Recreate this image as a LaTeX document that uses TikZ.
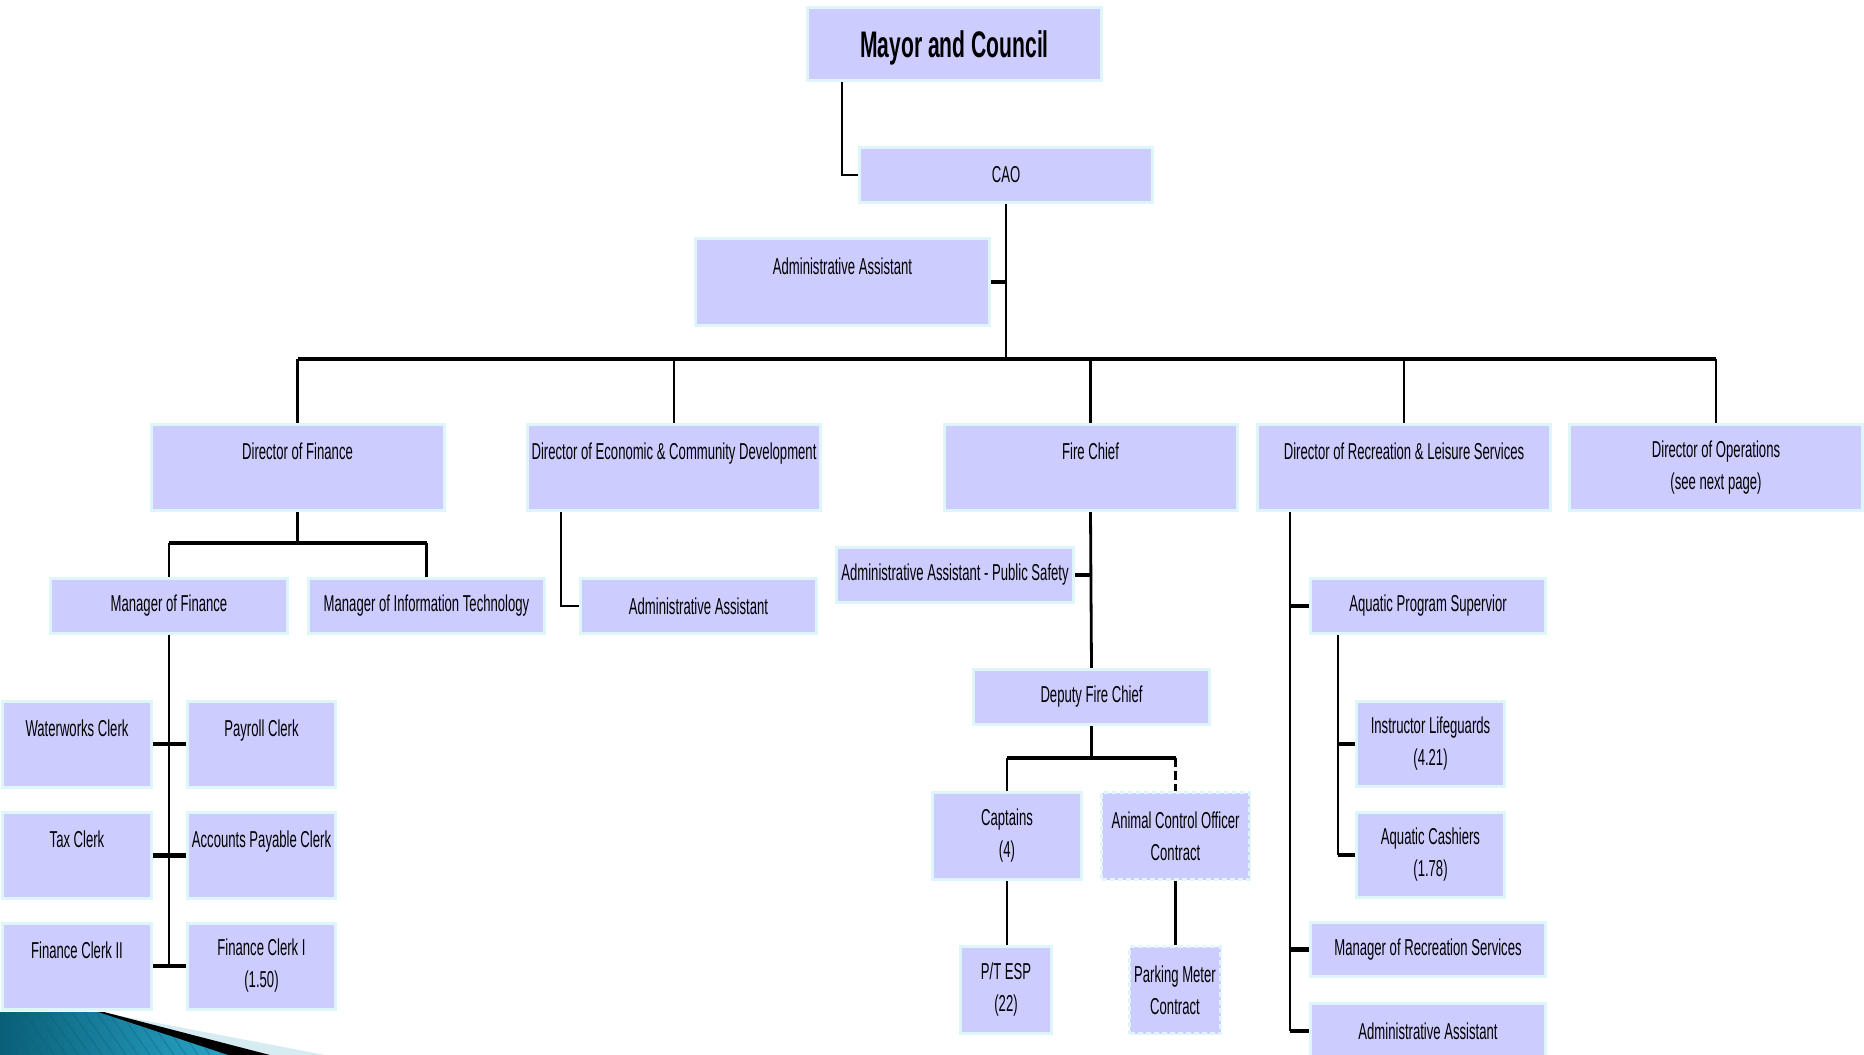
\documentclass[tikz,border=0pt]{standalone}
\usepackage{fontspec}
\setmainfont[FakeStretch=0.57]{Liberation Sans}
\usetikzlibrary{calc,backgrounds}
\definecolor{boxfill}{RGB}{204,204,255}
\definecolor{boxedge}{RGB}{222,245,250}
\definecolor{tealA}{RGB}{10,95,120}
\definecolor{tealB}{RGB}{40,165,200}
\definecolor{swoosh}{RGB}{214,236,242}
\tikzset{
  orgbox/.style={fill=boxfill, draw=boxedge, line width=3pt, inner sep=0pt, align=center,
    font=\fontsize{23}{32}\selectfont, text=black},
  dashbox/.style={orgbox, dash pattern=on 5pt off 3pt},
  link/.style={draw=black, line width=2.8pt},
  hlink/.style={draw=black, line width=4.2pt},
}
\begin{document}
\begin{tikzpicture}[x=1pt,y=-1pt]
\useasboundingbox (0,0) rectangle (1864,1055);
\clip (0,0) rectangle (1864,1055);

% bottom-left decoration
\fill[swoosh] (100,1012) -- (325,1055) -- (0,1055) -- cycle;
\fill[black] (0,1012) -- (104,1012) -- (270,1055) -- (0,1055) -- cycle;
\fill[left color=tealA, right color=tealB] (0,1012) -- (98,1012) -- (228,1055) -- (0,1055) -- cycle;
\begin{scope}
  \clip (0,1012) -- (98,1012) -- (228,1055) -- (0,1055) -- cycle;
  \foreach \i in {-60,-48,...,240} \draw[tealA, opacity=0.35, line width=1.2pt] (\i,1012) -- (\i+30,1055);
\end{scope}

% top
\node[orgbox, minimum width=294pt, minimum height=73pt, text depth=0pt, font=\bfseries\fontsize{37}{40}\selectfont] (mayor) at (954.5,44) {Mayor and Council};
\node[orgbox, minimum width=293pt, minimum height=55pt] (cao) at (1006,175) {CAO};
\node[orgbox, minimum width=294pt, minimum height=87pt] (aa1) at (842.5,282) {Administrative Assistant\\\mbox{}};

% directors
\node[orgbox, minimum width=293pt, minimum height=86pt] (dof) at (297.5,467.5) {Director of Finance\\\mbox{}};
\node[orgbox, minimum width=293pt, minimum height=86pt] (ecd) at (674,467.5) {Director of Economic \& Community Development\\\mbox{}};
\node[orgbox, minimum width=293pt, minimum height=86pt] (fire) at (1090.5,467.5) {Fire Chief\\\mbox{}};
\node[orgbox, minimum width=293pt, minimum height=86pt] (rec) at (1404,467.5) {Director of Recreation \& Leisure Services\\\mbox{}};
\node[orgbox, minimum width=293pt, minimum height=86pt] (ops) at (1716,467.5) {Director of Operations\\(see next page)};

% finance
\node[orgbox, minimum width=237pt, minimum height=55pt] (mof) at (169,606) {Manager of Finance};
\node[orgbox, minimum width=236pt, minimum height=55pt] (mit) at (426.5,606) {Manager of Information Technology};
\node[orgbox, minimum width=149pt, minimum height=86pt] (ww) at (77,744) {Waterworks Clerk\\\mbox{}};
\node[orgbox, minimum width=148pt, minimum height=86pt] (pc) at (261.5,744) {Payroll Clerk\\\mbox{}};
\node[orgbox, minimum width=149pt, minimum height=86pt] (tax) at (77,855.5) {Tax Clerk\\\mbox{}};
\node[orgbox, minimum width=148pt, minimum height=86pt] (apc) at (261.5,855.5) {Accounts Payable Clerk\\\mbox{}};
\node[orgbox, minimum width=149pt, minimum height=86pt] (fc2) at (77,966) {Finance Clerk II\\\mbox{}};
\node[orgbox, minimum width=148pt, minimum height=86pt] (fc1) at (261.5,966) {Finance Clerk I\\(1.50)};

% economic dev
\node[orgbox, minimum width=236pt, minimum height=55pt] (aa2) at (698.5,606) {Administrative Assistant};

% fire
\node[orgbox, minimum width=237pt, minimum height=55pt] (aaps) at (955,575) {Administrative Assistant - Public Safety};
\node[orgbox, minimum width=236pt, minimum height=55pt] (dfc) at (1091.5,697) {Deputy Fire Chief};
\node[orgbox, minimum width=149pt, minimum height=87pt] (cap) at (1007,836) {Captains\\(4)};
\node[dashbox, minimum width=148pt, minimum height=87pt] (aco) at (1175.5,836) {Animal Control Officer\\Contract};
\node[orgbox, minimum width=91pt, minimum height=87pt] (ptesp) at (1006,990) {P/T ESP\\(22)};
\node[dashbox, minimum width=91pt, minimum height=87pt] (pmc) at (1175,990) {Parking Meter\\Contract};

% recreation
\node[orgbox, minimum width=235pt, minimum height=55pt] (aps) at (1428,606) {Aquatic Program Supervior};
\node[orgbox, minimum width=148pt, minimum height=85pt] (il) at (1430.5,744) {Instructor Lifeguards\\(4.21)};
\node[orgbox, minimum width=148pt, minimum height=85pt] (ac) at (1430.5,855) {Aquatic Cashiers\\(1.78)};
\node[orgbox, minimum width=235pt, minimum height=54pt] (mrs) at (1428,949.5) {Manager of Recreation Services};
\node[orgbox, minimum width=235pt, minimum height=55pt] (aa3) at (1428,1031) {Administrative Assistant};

\begin{scope}[on background layer]
  \coordinate (bus) at (0,359);
  \draw[link] ($(mayor.south west)+(36,0)$) |- (cao.west);
  \draw[link] (cao.south) -- (cao.south |- bus);
  \draw[hlink] (aa1.east) -- (aa1.east -| cao.south);
  \draw[hlink] (dof.north |- bus) -- (ops.north |- bus);
  \foreach \n in {dof,ecd,fire,rec,ops} \draw[link] (\n.north |- bus) -- (\n.north);
  % finance
  \coordinate (fbus) at (0,543);
  \draw[link] (dof.south) -- (dof.south |- fbus);
  \draw[hlink] (mof.north |- fbus) -- (mit.north |- fbus);
  \draw[link] (mof.north |- fbus) -- (mof.north);
  \draw[link] (mit.north |- fbus) -- (mit.north);
  \draw[link] (mof.south) -- (mof.south |- fc2.east);
  \draw[hlink] (ww.east) -- (pc.west);
  \draw[hlink] (tax.east) -- (apc.west);
  \draw[hlink] (fc2.east) -- (fc1.west);
  % economic dev
  \draw[link] ($(ecd.south west)+(35,0)$) |- (aa2.west);
  % fire
  \draw[link] (fire.south) -- (dfc.north);
  \draw[hlink] (aaps.east) -- (aaps.east -| fire.south);
  \coordinate (dbus) at (0,758);
  \draw[link] (dfc.south) -- (dfc.south |- dbus);
  \draw[hlink] (cap.north |- dbus) -- (aco.north |- dbus);
  \draw[link] (cap.north |- dbus) -- (cap.north);
  \draw[link, dash pattern=on 9pt off 4pt] (aco.north |- dbus) -- (aco.north);
  \draw[link] (cap.south) -- (cap.south |- ptesp.north);
  \draw[link] (aco.south) -- (aco.south |- pmc.north);
  % recreation
  \coordinate (rv) at ($(rec.south west)+(34,0)$);
  \draw[link] (rv) -- (rv |- aa3.west);
  \draw[hlink] (rv |- aps.west) -- (aps.west);
  \draw[hlink] (rv |- mrs.west) -- (mrs.west);
  \draw[hlink] (rv |- aa3.west) -- (aa3.west);
  \coordinate (av) at ($(aps.south west)+(29,0)$);
  \draw[link] (av) -- (av |- ac.west);
  \draw[hlink] (av |- il.west) -- (il.west);
  \draw[hlink] (av |- ac.west) -- (ac.west);
\end{scope}
\end{tikzpicture}
\end{document}
